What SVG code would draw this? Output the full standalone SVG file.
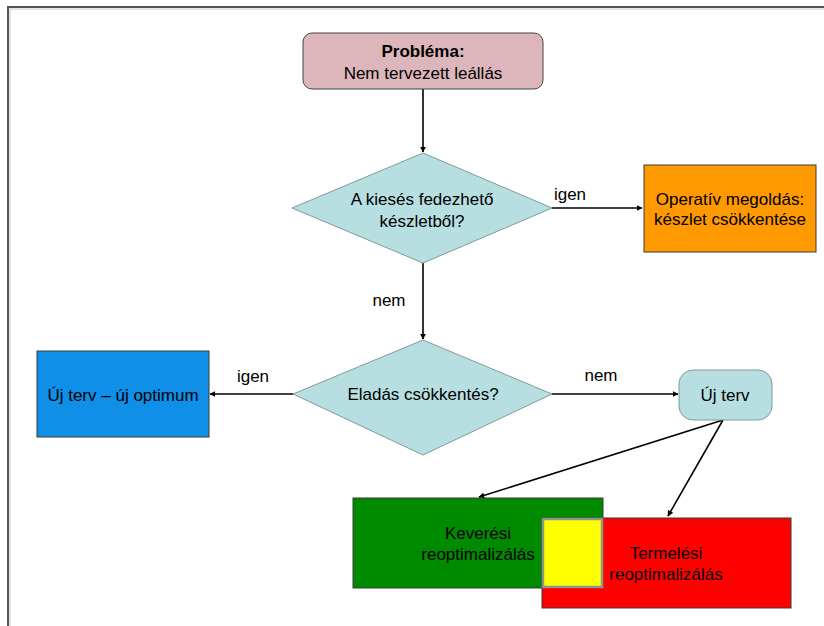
<svg xmlns="http://www.w3.org/2000/svg" width="824" height="626" viewBox="0 0 824 626">
  <style>
    text { font-family: "Liberation Sans", Arial, sans-serif; font-size: 17px; fill: #000; text-anchor: middle; }
    .bold { font-weight: bold; }
    .conn { stroke: #000; stroke-width: 1.6; fill: none; marker-end: url(#arrow); }
    .diamond { fill: #b7dfe2; stroke: #7f9a9c; stroke-width: 1; }
    .box { stroke: #3a3a3a; stroke-width: 1; }
  </style>
  <defs>
    <marker id="arrow" viewBox="0 0 10 10" refX="9" refY="5" markerWidth="6" markerHeight="6" markerUnits="userSpaceOnUse" orient="auto">
      <path d="M0,0 L10,5 L0,10 z" fill="#000"/>
    </marker>
  </defs>

  <rect width="824" height="626" fill="#fff"/>

  <!-- page frame -->
  <g id="frame">
    <path d="M8,626 V7 H824" fill="none" stroke="#555" stroke-width="2"/>
    <path d="M10,626 V9 H824" fill="none" stroke="#c8c8c8" stroke-width="1"/>
  </g>

  <!-- connectors -->
  <g id="connectors">
    <line class="conn" x1="423" y1="89" x2="423" y2="152"/>
    <line class="conn" x1="552" y1="208" x2="642" y2="208"/>
    <line class="conn" x1="423" y1="263" x2="423" y2="339"/>
    <line class="conn" x1="293" y1="394" x2="210" y2="394"/>
    <line class="conn" x1="552" y1="394" x2="678" y2="394"/>
    <line class="conn" x1="723" y1="420" x2="479" y2="497"/>
    <line class="conn" x1="723" y1="420" x2="668" y2="516"/>
    <text x="570" y="200">igen</text>
    <text x="389" y="306">nem</text>
    <text x="253" y="382">igen</text>
    <text x="601" y="381">nem</text>
  </g>

  <g id="problema">
    <rect x="303" y="33" width="240" height="56" rx="9" fill="#dcb6bb" stroke="#444" stroke-width="1"/>
    <text class="bold" x="423" y="57">Probléma:</text>
    <text x="423" y="79">Nem tervezett leállás</text>
  </g>

  <g id="dontes1">
    <polygon class="diamond" points="423,153 552,208 423,263 292,208"/>
    <text x="422" y="205">A kiesés fedezhető</text>
    <text x="422" y="227">készletből?</text>
  </g>

  <g id="operativ">
    <rect class="box" x="644" y="165" width="172" height="87" fill="#ff9900"/>
    <text x="730" y="205">Operatív megoldás:</text>
    <text x="730" y="225">készlet csökkentése</text>
  </g>

  <g id="dontes2">
    <polygon class="diamond" points="423,340 552,394 423,455 293,394"/>
    <text x="423" y="400">Eladás csökkentés?</text>
  </g>

  <g id="uj-optimum">
    <rect class="box" x="37" y="351" width="172" height="86" fill="#0f8fe8"/>
    <text x="123" y="401">Új terv – új optimum</text>
  </g>

  <g id="uj-terv">
    <rect x="679" y="370" width="93" height="50" rx="14" fill="#b7dfe2" stroke="#7f9a9c" stroke-width="1"/>
    <text x="725" y="401">Új terv</text>
  </g>

  <g id="keveresi">
    <rect class="box" x="353" y="498" width="250" height="90" fill="#008a00"/>
    <text x="478" y="539">Keverési</text>
    <text x="478" y="560">reoptimalizálás</text>
  </g>

  <g id="termelesi">
    <rect class="box" x="542" y="518" width="249" height="90" fill="#ff0000"/>
    <text x="666" y="559">Termelési</text>
    <text x="666" y="580">reoptimalizálás</text>
  </g>

  <g id="atfedes">
    <rect x="543" y="519" width="59" height="68" fill="#ffff00" stroke="#8a968a" stroke-width="2.5"/>
  </g>
</svg>
